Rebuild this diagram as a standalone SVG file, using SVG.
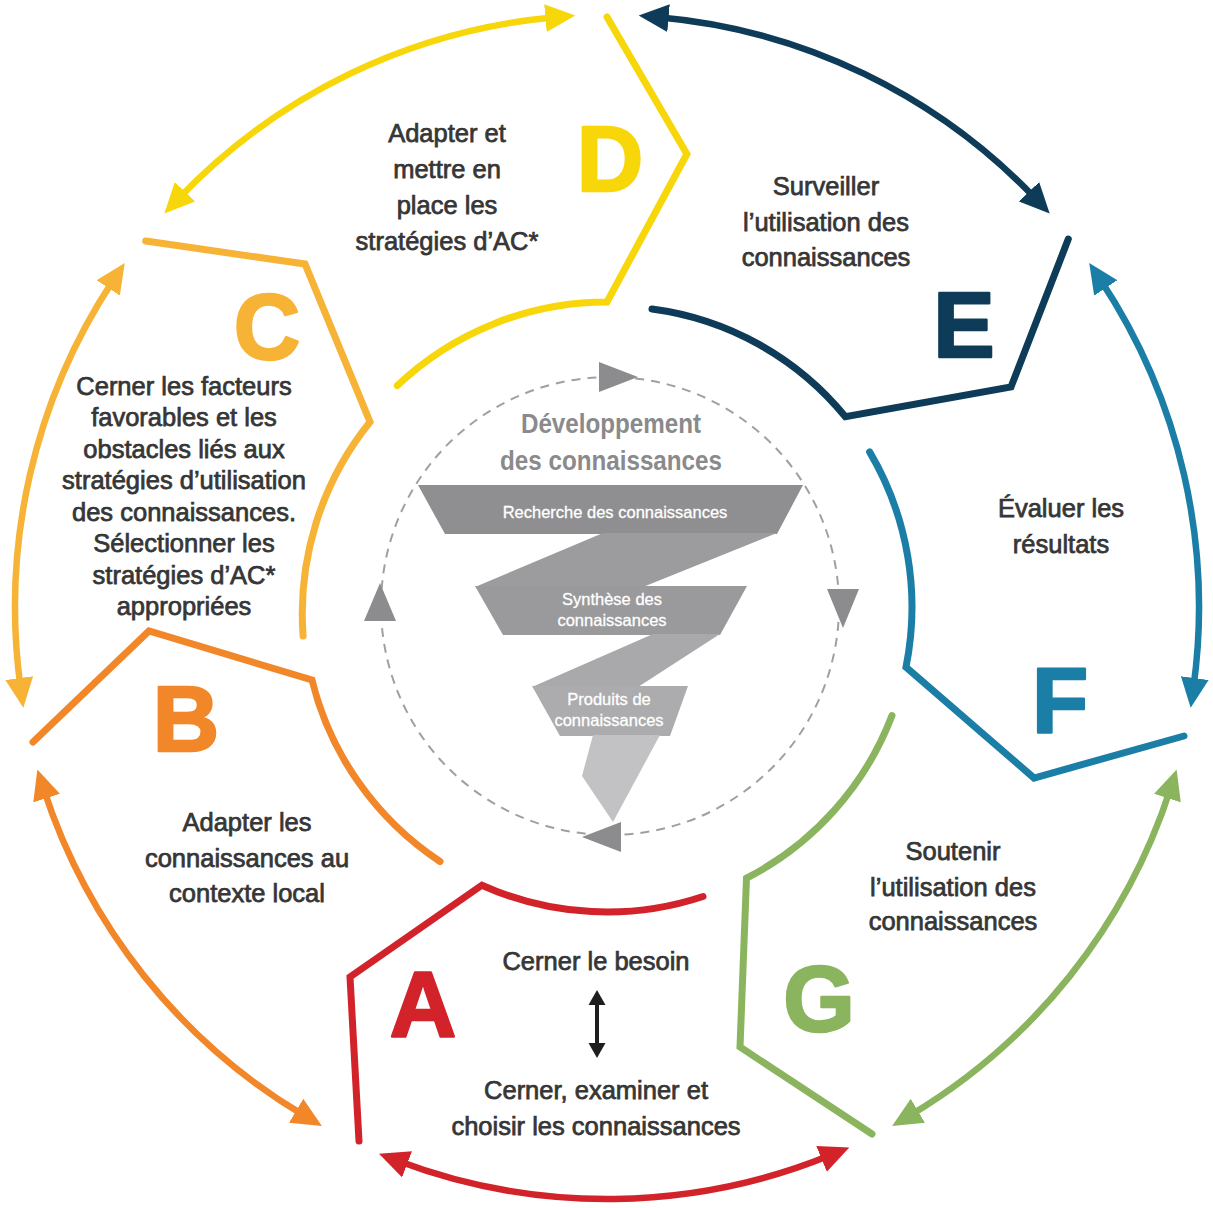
<svg xmlns="http://www.w3.org/2000/svg" width="1213" height="1208" viewBox="0 0 1213 1208">
<style>
.seg{fill:none;stroke-width:7;stroke-linejoin:miter;stroke-linecap:round}
.arr{fill:none;stroke-width:6.5;stroke-linecap:butt}
.lbl{font-family:"Liberation Sans",Arial,sans-serif;font-size:25.5px;fill:#363636;stroke:#363636;stroke-width:0.75;text-anchor:middle}
.big{font-family:"Liberation Sans",Arial,sans-serif;font-weight:bold;font-size:92px;text-anchor:middle;stroke-width:2.5;stroke-linejoin:round}
.ttl{font-family:"Liberation Sans",Arial,sans-serif;font-weight:bold;font-size:27.5px;fill:#8a8a8c;text-anchor:middle}
.fun{font-family:"Liberation Sans",Arial,sans-serif;font-size:16.5px;fill:#ffffff;stroke:#ffffff;stroke-width:0.3;text-anchor:middle}
.tri{fill:#8c8c8e}
</style>
<defs>
<marker id="mA" markerUnits="userSpaceOnUse" viewBox="0 0 30 28" markerWidth="30" markerHeight="28" refX="10" refY="14" orient="auto-start-reverse"><path d="M0,0 L30,14 L0,28 z" fill="#D2232A"/></marker>
<marker id="mB" markerUnits="userSpaceOnUse" viewBox="0 0 30 28" markerWidth="30" markerHeight="28" refX="10" refY="14" orient="auto-start-reverse"><path d="M0,0 L30,14 L0,28 z" fill="#F2872A"/></marker>
<marker id="mC" markerUnits="userSpaceOnUse" viewBox="0 0 30 28" markerWidth="30" markerHeight="28" refX="10" refY="14" orient="auto-start-reverse"><path d="M0,0 L30,14 L0,28 z" fill="#F6B335"/></marker>
<marker id="mD" markerUnits="userSpaceOnUse" viewBox="0 0 30 28" markerWidth="30" markerHeight="28" refX="10" refY="14" orient="auto-start-reverse"><path d="M0,0 L30,14 L0,28 z" fill="#F7D60A"/></marker>
<marker id="mE" markerUnits="userSpaceOnUse" viewBox="0 0 30 28" markerWidth="30" markerHeight="28" refX="10" refY="14" orient="auto-start-reverse"><path d="M0,0 L30,14 L0,28 z" fill="#0D3B58"/></marker>
<marker id="mF" markerUnits="userSpaceOnUse" viewBox="0 0 30 28" markerWidth="30" markerHeight="28" refX="10" refY="14" orient="auto-start-reverse"><path d="M0,0 L30,14 L0,28 z" fill="#1A7EA6"/></marker>
<marker id="mG" markerUnits="userSpaceOnUse" viewBox="0 0 30 28" markerWidth="30" markerHeight="28" refX="10" refY="14" orient="auto-start-reverse"><path d="M0,0 L30,14 L0,28 z" fill="#8BB45E"/></marker>
</defs>
<rect width="1213" height="1208" fill="#ffffff"/>

<g id="connectors">
<path class="arr" stroke="#F7D60A" marker-start="url(#mD)" marker-end="url(#mD)" d="M178.1,199 A592,592 0 0 1 555.4,17.2"/>
<path class="arr" stroke="#0D3B58" marker-start="url(#mE)" marker-end="url(#mE)" d="M658.6,17.2 A592,592 0 0 1 1035.9,199"/>
<path class="arr" stroke="#1A7EA6" marker-start="url(#mF)" marker-end="url(#mF)" d="M1100.3,279.6 A592,592 0 0 1 1193.4,688"/>
<path class="arr" stroke="#8BB45E" marker-start="url(#mG)" marker-end="url(#mG)" d="M1170.5,788.6 A592,592 0 0 1 909.3,1115.9"/>
<path class="arr" stroke="#D2232A" marker-start="url(#mA)" marker-end="url(#mA)" d="M830.8,1155.1 A592,592 0 0 1 397.7,1160.8"/>
<path class="arr" stroke="#F2872A" marker-start="url(#mB)" marker-end="url(#mB)" d="M304.7,1115.9 A592,592 0 0 1 43.5,788.6"/>
<path class="arr" stroke="#F6B335" marker-start="url(#mC)" marker-end="url(#mC)" d="M20.6,688 A592,592 0 0 1 113.7,279.6"/>
</g>

<g id="node-D">
<path class="seg" stroke="#F7D60A" d="M397.3,385.5 A305,305 0 0 1 607,302 L686.9,154 L607,17"/>
<text class="big" x="610" y="191" fill="#F7D60A" stroke="#F7D60A">D</text>
<text class="lbl" x="447"><tspan x="447" y="142">Adapter et</tspan><tspan x="447" y="178">mettre en</tspan><tspan x="447" y="214">place les</tspan><tspan x="447" y="250">stratégies d’AC*</tspan></text>
</g>

<g id="node-E">
<path class="seg" stroke="#0D3B58" d="M652,309 A300,300 0 0 1 845.4,416.8 L1011,387 L1068.3,239.1"/>
<text class="big" x="964" y="357" fill="#0D3B58" stroke="#0D3B58">E</text>
<text class="lbl" x="826"><tspan x="826" y="195">Surveiller</tspan><tspan x="826" y="231">l’utilisation des</tspan><tspan x="826" y="266">connaissances</tspan></text>
</g>

<g id="node-F">
<path class="seg" stroke="#1A7EA6" d="M869.6,451.9 A305,305 0 0 1 906,667.1 L1034,778 L1184,736"/>
<text class="big" x="1060" y="732" fill="#1A7EA6" stroke="#1A7EA6">F</text>
<text class="lbl" x="1061"><tspan x="1061" y="517">Évaluer les</tspan><tspan x="1061" y="553">résultats</tspan></text>
</g>

<g id="node-G">
<path class="seg" stroke="#8BB45E" d="M892,715.6 A305,305 0 0 1 746.5,878.2 L740,1047 L872,1134"/>
<text class="big" x="819" y="1031" fill="#8BB45E" stroke="#8BB45E">G</text>
<text class="lbl" x="953"><tspan x="953" y="860">Soutenir</tspan><tspan x="953" y="896">l’utilisation des</tspan><tspan x="953" y="930">connaissances</tspan></text>
</g>

<g id="node-A">
<path class="seg" stroke="#D2232A" d="M703,896.5 A305,305 0 0 1 481.9,885.2 L350,977 L359,1141"/>
<text class="big" x="423" y="1036" fill="#D2232A" stroke="#D2232A">A</text>
<text class="lbl" x="596" y="970">Cerner le besoin</text>
<g fill="#1e1e1e"><rect x="595" y="1002" width="4" height="44"/><polygon points="597,990 588.5,1005 605.5,1005"/><polygon points="597,1058 588.5,1043 605.5,1043"/></g>
<text class="lbl" x="596"><tspan x="596" y="1099">Cerner, examiner et</tspan><tspan x="596" y="1135">choisir les connaissances</tspan></text>
</g>

<g id="node-B">
<path class="seg" stroke="#F2872A" d="M440,861.5 A305,305 0 0 1 312,680 L149,631 L33,742"/>
<text class="big" x="186" y="751" fill="#F2872A" stroke="#F2872A">B</text>
<text class="lbl" x="247"><tspan x="247" y="831">Adapter les</tspan><tspan x="247" y="867">connaissances au</tspan><tspan x="247" y="902">contexte local</tspan></text>
</g>

<g id="node-C">
<path class="seg" stroke="#F6B335" d="M303.1,636 A305,305 0 0 1 370,422 L305,264 L145.7,241"/>
<text class="big" x="267" y="359" fill="#F6B335" stroke="#F6B335">C</text>
<text class="lbl" x="184"><tspan x="184" y="395">Cerner les facteurs</tspan><tspan x="184" y="426">favorables et les</tspan><tspan x="184" y="458">obstacles liés aux</tspan><tspan x="184" y="489">stratégies d’utilisation</tspan><tspan x="184" y="521">des connaissances.</tspan><tspan x="184" y="552">Sélectionner les</tspan><tspan x="184" y="584">stratégies d’AC*</tspan><tspan x="184" y="615">appropriées</tspan></text>
</g>

<g id="center">
<circle cx="610" cy="606" r="229" fill="none" stroke="#a0a0a0" stroke-width="2" stroke-dasharray="9 7"/>
<polygon class="tri" points="599,362 599,392 638,377"/>
<polygon class="tri" points="827,589 859,589 843,628"/>
<polygon class="tri" points="621,822 621,852 582,837"/>
<polygon class="tri" points="364,621 396,621 380,583"/>
<g transform="translate(611,0) scale(0.88,1)">
<text class="ttl" x="0" y="433">Développement</text>
<text class="ttl" x="0" y="470">des connaissances</text>
</g>
<polygon points="418,485 803,485 777,534 445,534" fill="#8f8f91"/>
<polygon points="603,533 777,533 643,587 475,587" fill="#9c9c9e"/>
<polygon points="475,586 747,586 720,635 503,635" fill="#9a9a9c"/>
<polygon points="653,634 720,634 638,687 532,687" fill="#a9a9ab"/>
<polygon points="532,686 688,686 670,736 560,736" fill="#acacae"/>
<polygon points="593,735 660,735 613,822 582,776" fill="#c2c2c4"/>
<text class="fun" x="615" y="518">Recherche des connaissances</text>
<text class="fun" x="612" y="605">Synthèse des</text>
<text class="fun" x="612" y="626">connaissances</text>
<text class="fun" x="609" y="705">Produits de</text>
<text class="fun" x="609" y="726">connaissances</text>
</g>
</svg>
